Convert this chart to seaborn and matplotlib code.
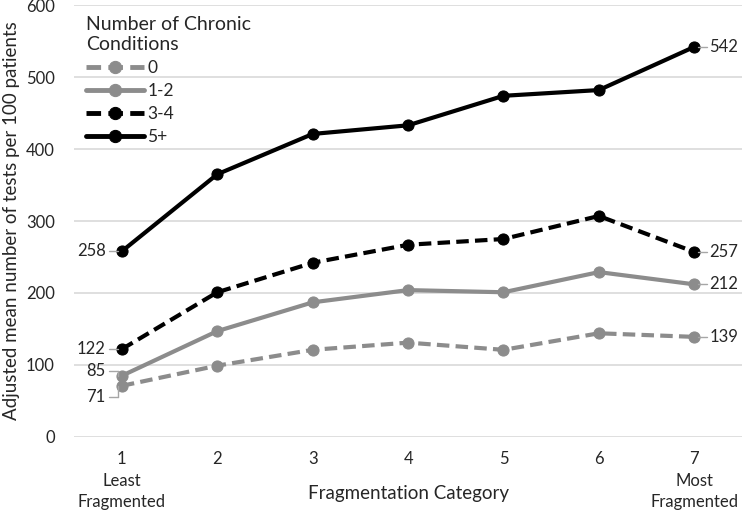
import pandas as pd
import seaborn as sns
import matplotlib.pyplot as plt

categories = [1, 2, 3, 4, 5, 6, 7]
groups = ['0', '1-2', '3-4', '5+']
vals_0 = [71, 99, 121, 131, 121, 144, 139]
vals_12 = [85, 147, 187, 204, 201, 229, 212]
vals_34 = [122, 201, 242, 267, 275, 307, 257]
vals_5p = [258, 365, 421, 433, 474, 482, 542]
tick_labels = ['1\nLeast\nFragmented', '2', '3', '4', '5', '6', '7\nMost\nFragmented']

sns.set_style('white')
plt.rcParams['font.family'] = ['Lato', 'DejaVu Sans']

df = pd.DataFrame({
    'cat': categories * 4,
    'val': vals_0 + vals_12 + vals_34 + vals_5p,
    'grp': [g for g in groups for _ in categories],
})

styles = {'0': ('#8c8c8c', (0, (3, 1.5))), '1-2': ('#8c8c8c', '-'),
          '3-4': ('black', (0, (3, 1.5))), '5+': ('black', '-')}

fig, ax = plt.subplots(figsize=(7.42, 5.14), dpi=100)
fig.subplots_adjust(left=0.1, right=1.0, top=0.99, bottom=0.15)

for g in groups:
    color, ls = styles[g]
    sns.lineplot(data=df[df.grp == g], x='cat', y='val', ax=ax, color=color,
                 linestyle=ls, linewidth=3, marker='o', markersize=8,
                 markeredgecolor=color, label=g)

# end labels with short leader lines
left_off = {'0': -16, '1-2': 7, '3-4': 0, '5+': 0}
for g in groups:
    s = df[df.grp == g]
    v0 = s.val.iloc[0]
    v7 = s.val.iloc[-1]
    off = left_off[g]
    ax.plot([0.86, 0.96], [v0 + off, v0 + off], color='#a6a6a6', lw=1)
    if off != 0:
        ax.plot([0.96, 0.96], [v0 + off, v0], color='#a6a6a6', lw=1)
    ax.text(0.83, v0 + off, str(v0), ha='right', va='center', fontsize=12)
    ax.plot([7.04, 7.13], [v7, v7], color='#a6a6a6', lw=1)
    ax.text(7.16, v7, str(v7), ha='left', va='center', fontsize=12)

ax.set_xlim(0.5, 7.5)
ax.set_ylim(0, 600)
ax.set_yticks(range(0, 601, 100))
ax.set_xticks(categories)
ax.set_xticklabels(tick_labels, fontsize=12, linespacing=1.45)
ax.tick_params(axis='y', labelsize=12, length=0, pad=14)
ax.tick_params(axis='x', length=0, pad=10)
ax.grid(axis='y', color='#d9d9d9', lw=1.2)
for sp in ax.spines.values():
    sp.set_visible(False)
ax.set_xlabel('Fragmentation Category', fontsize=13.5, labelpad=-18)
ax.set_ylabel('Adjusted mean number of tests per 100 patients', fontsize=13.5)

leg = ax.legend(title='Number of Chronic\nConditions', loc='upper left',
                bbox_to_anchor=(-0.005, 1.01), frameon=False, fontsize=12.5,
                title_fontsize=14, handlelength=3.3, labelspacing=0.4,
                handletextpad=0.2, markerscale=1.1)
leg._legend_box.align = 'left'
for ln in leg.get_lines():
    ln.set_linewidth(3.5)

fig.savefig('out.png', dpi=100)
